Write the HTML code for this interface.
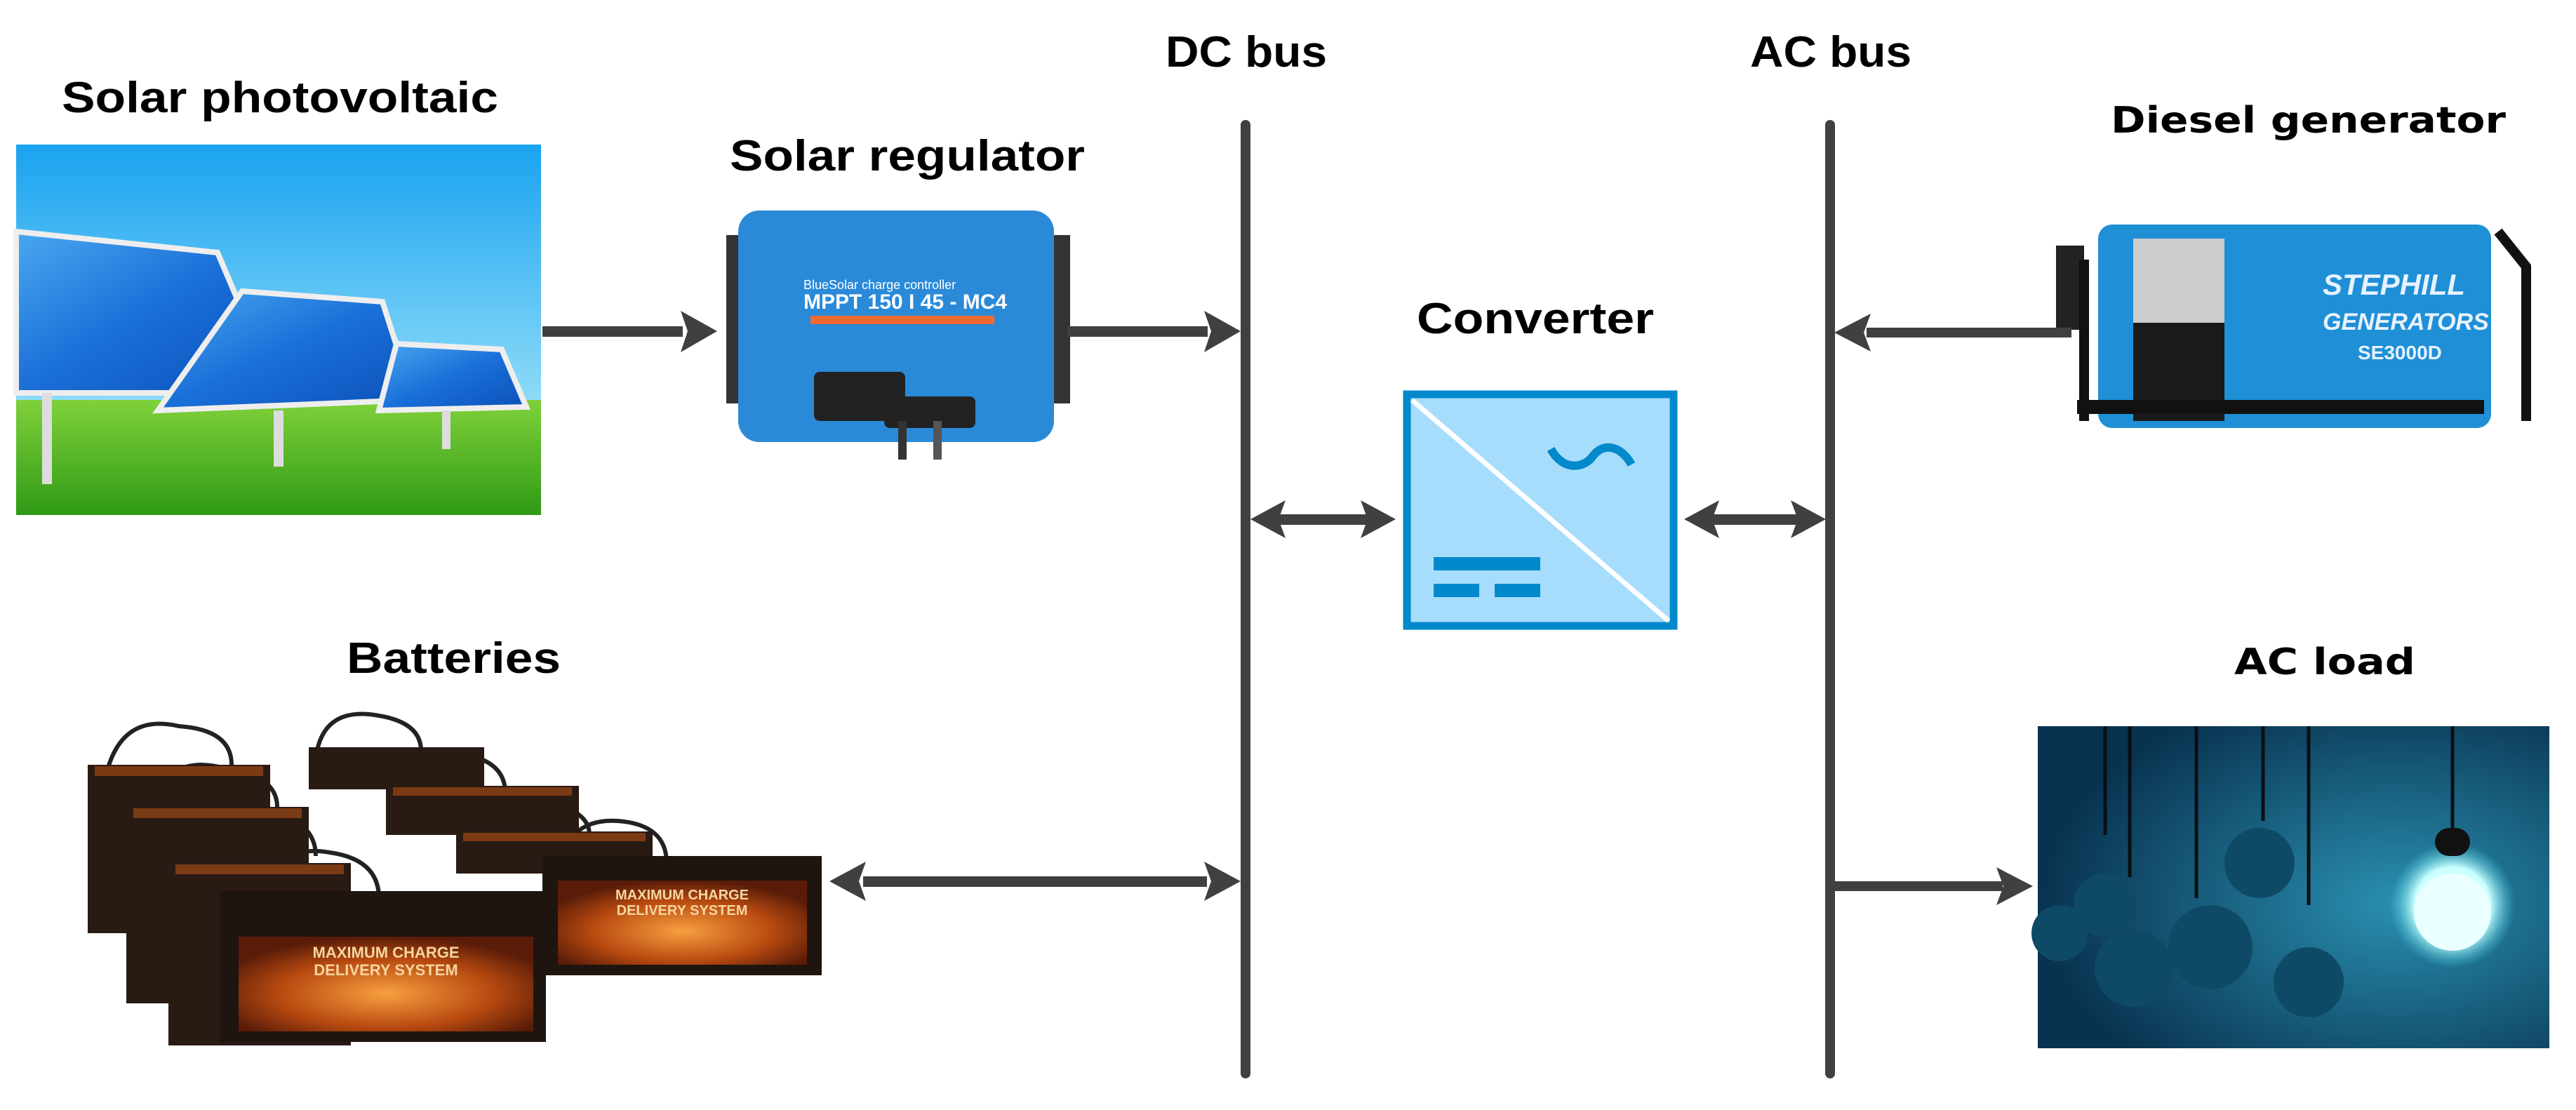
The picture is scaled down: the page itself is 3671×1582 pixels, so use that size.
<!DOCTYPE html>
<html><head><meta charset="utf-8"><style>html,body{margin:0;padding:0;background:#fff}svg{display:block}</style></head>
<body>
<svg width="3671" height="1582" viewBox="0 0 3671 1582" xmlns="http://www.w3.org/2000/svg">
<defs>
<linearGradient id="sky" x1="0" y1="0" x2="0" y2="1"><stop offset="0" stop-color="#1aa3f0"/><stop offset="0.7" stop-color="#8fdcf8"/><stop offset="1" stop-color="#c8f0ff"/></linearGradient>
<linearGradient id="grass" x1="0" y1="0" x2="0" y2="1"><stop offset="0" stop-color="#7fd13a"/><stop offset="1" stop-color="#2f9a16"/></linearGradient>
<linearGradient id="panel" x1="0" y1="0" x2="1" y2="1"><stop offset="0" stop-color="#4aa8f0"/><stop offset="0.5" stop-color="#1a6fd8"/><stop offset="1" stop-color="#0b4fb8"/></linearGradient>
<radialGradient id="load" cx="0.7" cy="0.55" r="0.7"><stop offset="0" stop-color="#2a8fb0"/><stop offset="1" stop-color="#08324f"/></radialGradient>
<radialGradient id="bulb" cx="0.5" cy="0.5" r="0.5"><stop offset="0" stop-color="#ffffff"/><stop offset="0.6" stop-color="#c8ffff"/><stop offset="1" stop-color="#3cc6d8" stop-opacity="0"/></radialGradient>
<radialGradient id="bat" cx="0.5" cy="0.6" r="0.6"><stop offset="0" stop-color="#f8a040"/><stop offset="0.6" stop-color="#b84a10"/><stop offset="1" stop-color="#5a1c08"/></radialGradient>
</defs>

<!-- Solar PV image -->
<rect x="23" y="206" width="748" height="528" fill="url(#sky)"/>
<rect x="23" y="570" width="748" height="164" fill="url(#grass)"/>
<polygon points="23,330 310,360 395,560 23,560" fill="url(#panel)" stroke="#eee" stroke-width="8"/>
<polygon points="345,415 545,430 590,570 225,585" fill="url(#panel)" stroke="#eee" stroke-width="8"/>
<polygon points="565,490 715,498 750,580 540,585" fill="url(#panel)" stroke="#eee" stroke-width="8"/>
<rect x="60" y="560" width="14" height="130" fill="#ddd"/>
<rect x="390" y="585" width="14" height="80" fill="#ddd"/>
<rect x="630" y="585" width="12" height="55" fill="#ddd"/>

<!-- Solar regulator -->
<rect x="1035" y="335" width="35" height="240" fill="#333"/>
<rect x="1500" y="335" width="25" height="240" fill="#333"/>
<rect x="1052" y="300" width="450" height="330" rx="30" fill="#2a8ad8"/>
<rect x="1155" y="450" width="262" height="12" fill="#ee6a30"/>
<text x="1145" y="440" font-family="Liberation Sans, sans-serif" font-weight="bold" font-size="30" fill="#fff">MPPT 150 I 45 - MC4</text>
<text x="1145" y="412" font-family="Liberation Sans, sans-serif" font-size="18" fill="#fff">BlueSolar charge controller</text>
<rect x="1160" y="530" width="130" height="70" rx="8" fill="#222"/>
<rect x="1260" y="565" width="130" height="45" rx="8" fill="#222"/>
<rect x="1280" y="600" width="12" height="55" fill="#333"/>
<rect x="1330" y="600" width="12" height="55" fill="#555"/>

<!-- Diesel generator -->
<rect x="2990" y="320" width="560" height="290" rx="20" fill="#1f8fd6"/>
<rect x="2930" y="350" width="40" height="120" fill="#222"/>
<rect x="3040" y="340" width="130" height="120" fill="#ccc"/>
<rect x="3040" y="460" width="130" height="140" fill="#1a1a1a"/>
<rect x="2960" y="570" width="580" height="20" fill="#111"/>
<path d="M2970,370 L2970,600 M3560,330 L3600,380 L3600,600" stroke="#111" stroke-width="14" fill="none"/>
<text x="3310" y="420" font-family="Liberation Sans, sans-serif" font-weight="bold" font-style="italic" font-size="42" fill="#e6f2ff">STEPHILL</text>
<text x="3310" y="470" font-family="Liberation Sans, sans-serif" font-weight="bold" font-style="italic" font-size="34" fill="#e6f2ff">GENERATORS</text>
<text x="3360" y="512" font-family="Liberation Sans, sans-serif" font-weight="bold" font-size="28" fill="#e6f2ff">SE3000D</text>

<!-- AC load -->
<rect x="2904" y="1035" width="729" height="459" fill="url(#load)"/>
<g stroke="#0a0f14" stroke-width="5">
<line x1="3000" y1="1035" x2="3000" y2="1190"/><line x1="3035" y1="1035" x2="3035" y2="1250"/><line x1="3130" y1="1035" x2="3130" y2="1280"/><line x1="3225" y1="1035" x2="3225" y2="1170"/><line x1="3290" y1="1035" x2="3290" y2="1290"/><line x1="3495" y1="1035" x2="3495" y2="1180"/>
</g>
<g fill="#0e4a66"><circle cx="3000" cy="1290" r="45"/><circle cx="3040" cy="1380" r="55"/><circle cx="3150" cy="1350" r="60"/><circle cx="3220" cy="1230" r="50"/><circle cx="3290" cy="1400" r="50"/><circle cx="2935" cy="1330" r="40"/></g>
<circle cx="3495" cy="1290" r="90" fill="url(#bulb)"/>
<circle cx="3495" cy="1300" r="55" fill="#eaffff"/>
<rect x="3470" y="1180" width="50" height="40" rx="20" fill="#111"/>

<!-- Batteries -->
<g fill="none" stroke="#222" stroke-width="6">
<path d="M150,1110 Q170,1015 255,1035 Q330,1040 330,1090"/>
<path d="M450,1080 Q460,1005 540,1020 Q600,1030 600,1070"/>
<path d="M210,1170 Q230,1070 320,1095 Q395,1105 395,1150"/>
<path d="M555,1140 Q570,1060 660,1075 Q720,1085 720,1130"/>
<path d="M265,1245 Q285,1130 380,1155 Q450,1170 450,1220"/>
<path d="M670,1200 Q690,1130 780,1145 Q840,1155 840,1190"/>
<path d="M370,1290 Q385,1200 470,1215 Q540,1225 540,1280"/>
<path d="M790,1250 Q805,1165 880,1170 Q950,1175 950,1230"/>
</g>
<g fill="#2a1a14">
<rect x="125" y="1090" width="260" height="240"/>
<rect x="440" y="1065" width="250" height="60"/>
<rect x="180" y="1150" width="260" height="280"/>
<rect x="550" y="1120" width="275" height="70"/>
<rect x="240" y="1230" width="260" height="260"/>
<rect x="650" y="1185" width="280" height="60"/>
</g>
<g fill="#7a3a14"><rect x="135" y="1092" width="240" height="14"/><rect x="190" y="1152" width="240" height="14"/><rect x="250" y="1232" width="240" height="14"/><rect x="560" y="1122" width="255" height="12"/><rect x="660" y="1187" width="260" height="12"/></g>
<rect x="313" y="1270" width="465" height="215" fill="#1e1410"/>
<rect x="340" y="1335" width="420" height="135" fill="url(#bat)"/>
<rect x="773" y="1220" width="398" height="170" fill="#1e1410"/>
<rect x="795" y="1255" width="355" height="120" fill="url(#bat)"/>
<g font-family="Liberation Sans, sans-serif" font-weight="bold" fill="#f6d6a0" text-anchor="middle">
<text x="550" y="1365" font-size="22">MAXIMUM CHARGE</text><text x="550" y="1390" font-size="22">DELIVERY SYSTEM</text>
<text x="972" y="1282" font-size="20">MAXIMUM CHARGE</text><text x="972" y="1304" font-size="20">DELIVERY SYSTEM</text>
</g>

<!-- Buses -->
<line x1="1775" y1="178" x2="1775" y2="1530" stroke="#404040" stroke-width="14" stroke-linecap="round"/>
<line x1="2608" y1="178" x2="2608" y2="1530" stroke="#404040" stroke-width="14" stroke-linecap="round"/>

<!-- Arrows -->
<g fill="#404040">
<rect x="773" y="465" width="200" height="15"/><polygon points="1022,472 970,443 980,472 970,502"/>
<rect x="1521" y="465" width="200" height="15"/><polygon points="1768,472 1716,443 1726,472 1716,502"/>
<rect x="2660" y="467" width="292" height="14"/><polygon points="2614,474 2666,447 2656,474 2666,501"/>
<rect x="2614" y="1256" width="240" height="14"/><polygon points="2897,1263 2845,1236 2855,1263 2845,1290"/>
<rect x="1230" y="1249" width="490" height="15"/><polygon points="1182,1256 1234,1228 1224,1256 1234,1284"/><polygon points="1768,1256 1716,1228 1726,1256 1716,1284"/>
<rect x="1820" y="733" width="130" height="15"/><polygon points="1782,740 1832,713 1822,740 1832,767"/><polygon points="1989,740 1939,713 1949,740 1939,767"/>
<rect x="2440" y="733" width="130" height="15"/><polygon points="2400,740 2450,713 2440,740 2450,767"/><polygon points="2602,740 2552,713 2562,740 2552,767"/>
</g>

<!-- Converter -->
<rect x="2005" y="562" width="380" height="330" fill="#a7ddfc" stroke="#0289cb" stroke-width="11"/>
<line x1="2012" y1="570" x2="2378" y2="885" stroke="#fff" stroke-width="7"/>
<path d="M2210,640 C2230,675 2260,665 2270,650 C2285,630 2310,635 2325,662" stroke="#0289cb" stroke-width="12" fill="none"/>
<rect x="2043" y="794" width="152" height="19" fill="#0289cb"/>
<rect x="2043" y="832" width="65" height="19" fill="#0289cb"/>
<rect x="2130" y="832" width="65" height="19" fill="#0289cb"/>

<!-- Labels -->
<g font-family="Liberation Sans, sans-serif" font-weight="bold" fill="#000">
<text x="88" y="160" font-size="62" textLength="622" lengthAdjust="spacingAndGlyphs">Solar photovoltaic</text>
<text x="1040" y="243" font-size="62" textLength="506" lengthAdjust="spacingAndGlyphs">Solar regulator</text>
<text x="1661" y="95" font-size="62" textLength="230" lengthAdjust="spacingAndGlyphs">DC bus</text>
<text x="2494" y="95" font-size="62" textLength="230" lengthAdjust="spacingAndGlyphs">AC bus</text>
<text x="2019" y="475" font-size="62" textLength="338" lengthAdjust="spacingAndGlyphs">Converter</text>
<text x="494" y="959" font-size="62" textLength="305" lengthAdjust="spacingAndGlyphs">Batteries</text>
</g>
<g font-family="DejaVu Sans, sans-serif" font-weight="bold" fill="#000">
<text x="3008" y="189" font-size="52" textLength="563" lengthAdjust="spacingAndGlyphs">Diesel generator</text>
<text x="3184" y="961" font-size="52" textLength="258" lengthAdjust="spacingAndGlyphs">AC load</text>
</g>
</svg>
</body></html>
